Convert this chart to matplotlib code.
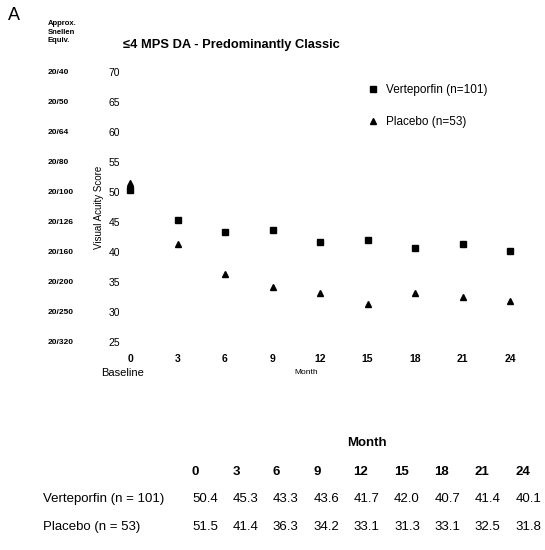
import matplotlib.pyplot as plt
from matplotlib.lines import Line2D
from matplotlib.transforms import blended_transform_factory

plt.rcParams['font.family'] = ['Liberation Sans', 'DejaVu Sans']

months = [0, 3, 6, 9, 12, 15, 18, 21, 24]
verteporfin = [50.4, 45.3, 43.3, 43.6, 41.7, 42.0, 40.7, 41.4, 40.1]
placebo = [51.5, 41.4, 36.3, 34.2, 33.1, 31.3, 33.1, 32.5, 31.8]
score_ticks = [70, 65, 60, 55, 50, 45, 40, 35, 30, 25]
snellen = ['20/40', '20/50', '20/64', '20/80', '20/100', '20/126',
           '20/160', '20/200', '20/250', '20/320']
row_labels = ['Verteporfin (n = 101)', 'Placebo (n = 53)']

W, H = 545, 550
fig = plt.figure(figsize=(W / 100, H / 100), dpi=100)


def fx(px):
    return px / W


def fy(py):
    return 1 - py / H


ax = fig.add_axes([fx(130), fy(342), fx(510) - fx(130), fy(72) - fy(342)])
ax.set_xlim(0, 24)
ax.set_ylim(25, 70)
for s in ax.spines.values():
    s.set_visible(False)

ax.plot(months, verteporfin, 's', color='black', ms=4, clip_on=False)
ax.plot(months, placebo, '^', color='black', ms=4.5, clip_on=False)

ax.set_xticks(months)
ax.set_yticks(score_ticks)
ax.tick_params(length=0, labelsize=7.5, pad=7)
ax.tick_params(axis='x', pad=9)
for lab in ax.get_xticklabels():
    lab.set_fontweight('bold')

# Snellen equivalents on the far left
tr = blended_transform_factory(fig.transFigure, ax.transData)
for v, s in zip(score_ticks, snellen):
    ax.text(fx(48), v, s, transform=tr, fontsize=6, fontweight='bold',
            ha='left', va='center')

fig.text(fx(48), fy(20), 'Approx.\nSnellen\nEquiv.', fontsize=5.5,
         fontweight='bold', ha='left', va='top', linespacing=1.3)
fig.text(fx(8), fy(15), 'A', fontsize=13, ha='left', va='center')
fig.text(fx(123), fy(45), '\u22644 MPS DA - Predominantly Classic',
         fontsize=9.3, fontweight='bold', ha='left', va='center')
fig.text(fx(99), (fy(72) + fy(342)) / 2, 'Visual Acuity Score',
         fontsize=7, rotation=90, ha='center', va='center')
fig.text(fx(123), fy(373), 'Baseline', fontsize=8, ha='center', va='center')
fig.text(fx(306), fy(373), 'Month', fontsize=6, ha='center', va='center')

handles = [Line2D([], [], ls='', marker='s', color='black', ms=4),
           Line2D([], [], ls='', marker='^', color='black', ms=4.5)]
ax.legend(handles, ['Verteporfin (n=101)', 'Placebo (n=53)'],
          loc='upper left', bbox_to_anchor=(fx(362), fy(79)),
          bbox_transform=fig.transFigure, frameon=False, fontsize=8.5,
          handlelength=1.0, handletextpad=0.6, labelspacing=1.7,
          borderaxespad=0)

# summary table below the chart
col_x = [192 + 40.4 * i for i in range(len(months))]
fig.text(fx(367), fy(443), 'Month', fontsize=9.5, fontweight='bold',
         ha='center', va='center')
for cx, m in zip(col_x, months):
    fig.text(fx(cx), fy(472), str(m), fontsize=9.5, fontweight='bold',
             ha='left', va='center')
for row_y, label, vals in zip([499, 527], row_labels, [verteporfin, placebo]):
    fig.text(fx(43), fy(row_y), label, fontsize=9.5, ha='left', va='center')
    for cx, v in zip(col_x, vals):
        fig.text(fx(cx), fy(row_y), f'{v:.1f}', fontsize=9.5,
                 ha='left', va='center')

fig.savefig('out.png', dpi=100)
